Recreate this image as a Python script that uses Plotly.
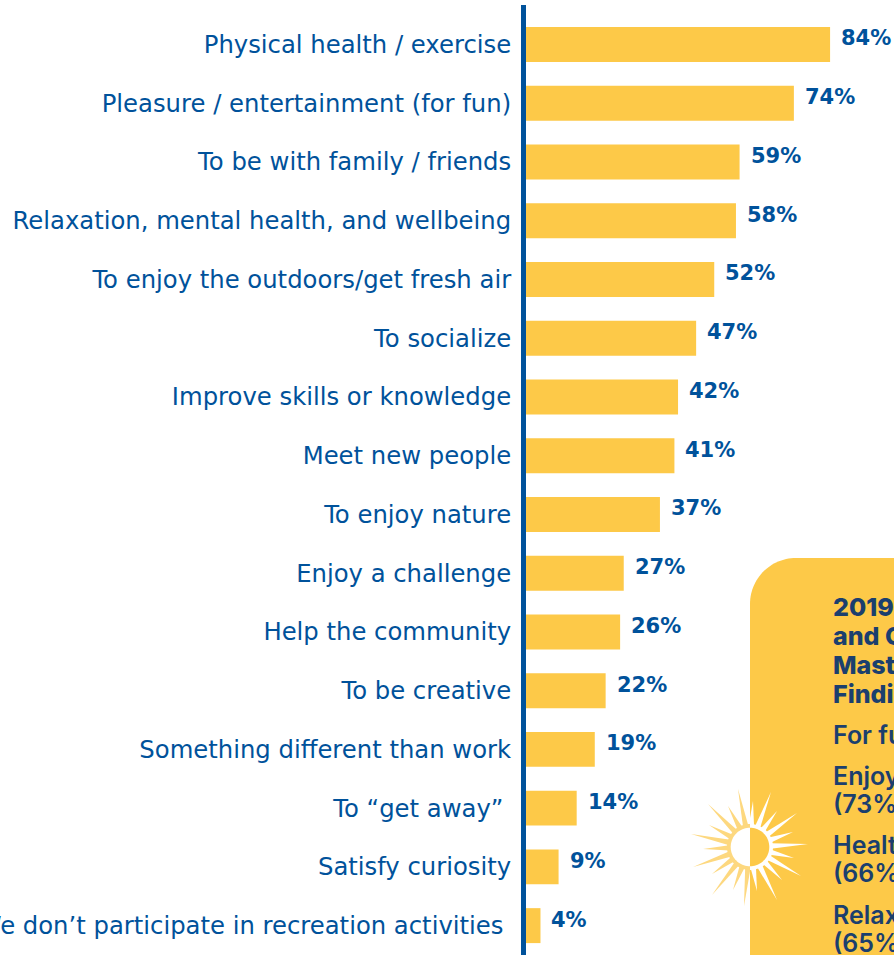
import numpy as np
import plotly.graph_objects as go

categories = [
    "Physical health / exercise", "Pleasure / entertainment (for fun)", "To be with family / friends",
    "Relaxation, mental health, and wellbeing", "To enjoy the outdoors/get fresh air", "To socialize",
    "Improve skills or knowledge", "Meet new people", "To enjoy nature", "Enjoy a challenge",
    "Help the community", "To be creative", "Something different than work", "To “get away”\u00a0",
    "Satisfy curiosity", "We don’t participate in recreation activities\u00a0",
]
values = [84, 74, 59, 58, 52, 47, 42, 41, 37, 27, 26, 22, 19, 14, 9, 4]
panel_lines = [
    ("2019 Parks", 607, 800), ("and Open Space", 636, 800), ("Master Plan", 665, 800), ("Findings", 694, 800),
    ("For fun", 735, 600), ("Enjoy nature", 776, 600), ("(73%)", 804, 600), ("Health", 845, 600),
    ("(66%)", 873, 600), ("Relaxation", 915, 600), ("(65%)", 943, 600),
]
# sun ray tips as (dx, dy) in px from the sun's centre
ray_tips = [(-12, -58), (-42, -43), (-22, -41), (-41, -22), (-59, -13), (-47, 2), (-57, 20), (-38, 27),
            (-38, 48), (-17, 43), (-6, 59), (7, 44), (27, 53), (32, 33), (51, 29), (44, 11), (58, -3),
            (43, -15), (47, -34), (27, -36), (21, -55), (3, -46)]

W, H = 894, 955
L = 526
PX_PER_PCT = 3.62
BLUE = "#00529B"
NAVY = "#1B3F6E"
GOLD = "#FDC948"
PALE = "#FDD87F"
FONT = "DejaVu Sans"
PANEL_FONT = "Inter"


def px(x):
    return (x - L) / (W - L)


def py(y):
    return 1 - y / H


def path(pts):
    return "M" + " L".join(f"{px(x):.5f},{py(y):.5f}" for x, y in pts) + " Z"


shapes = []


def add(pts, color):
    shapes.append(dict(type="path", xref="paper", yref="paper", path=path(pts), fillcolor=color,
                       line=dict(width=0), layer="above"))


# axis rule
add([(521, 5), (526, 5), (526, H), (521, H)], BLUE)
# call-out panel with a rounded corner
r = 46
t = np.linspace(np.pi, 1.5 * np.pi, 30)
corner = [(750 + r + r * np.cos(a), 558 + r + r * np.sin(a)) for a in t]
add([(750, H)] + corner + [(W, 558), (W, H)], GOLD)
# sun
cx, cy = 750, 847
for dx, dy in ray_tips:
    ang = np.arctan2(dy, dx)
    hw = 0.13
    base = 21
    add([(cx + base * np.cos(ang - hw), cy + base * np.sin(ang - hw)), (cx + dx, cy + dy),
         (cx + base * np.cos(ang + hw), cy + base * np.sin(ang + hw))], PALE if dx < 0 else "white")


def half(radius, side):
    a = np.linspace(-np.pi / 2, np.pi / 2, 40)
    return [(cx + side * radius * np.cos(v), cy + radius * np.sin(v)) for v in a]


add(half(23, -1), PALE)
add(half(23, 1), "white")
add(half(19.3, -1), "white")
add(half(19.3, 1), GOLD)

fig = go.Figure(go.Bar(x=values, y=categories, orientation="h", marker=dict(color=GOLD, line=dict(width=0)),
                       width=0.595, hoverinfo="skip"))

annotations = [
    dict(x=v, y=c, xref="x", yref="y", text=f"<b>{v}%</b>", showarrow=False, xanchor="left", yanchor="middle",
         xshift=9, yshift=6, font=dict(family=FONT, size=21, color=BLUE))
    for v, c in zip(values, categories)
]
for txt, y, wt in panel_lines:
    annotations.append(dict(x=px(833), y=py(y), xref="paper", yref="paper", text=txt, showarrow=False,
                            xanchor="left", yanchor="middle", align="left", xshift=-2,
                            font=dict(family=PANEL_FONT, size=25, color=NAVY, weight=wt)))

fig.update_layout(
    width=W, height=H, autosize=False, margin=dict(l=L, r=0, t=0, b=0),
    paper_bgcolor="white", plot_bgcolor="white", showlegend=False,
    xaxis=dict(range=[0, (W - L) / PX_PER_PCT], visible=False, fixedrange=True),
    yaxis=dict(type="category", categoryorder="array", categoryarray=categories,
               range=[15.5, -0.757], showgrid=False, zeroline=False, showline=False, ticks="outside",
               ticklen=9, tickcolor="rgba(0,0,0,0)", tickfont=dict(family=FONT, size=24.3, color=BLUE),
               automargin=False, fixedrange=True),
    shapes=shapes, annotations=annotations,
)
fig.write_html("out.html", config=dict(displayModeBar=False),
               post_script="document.body.style.margin='0';document.documentElement.style.overflow='hidden';")
